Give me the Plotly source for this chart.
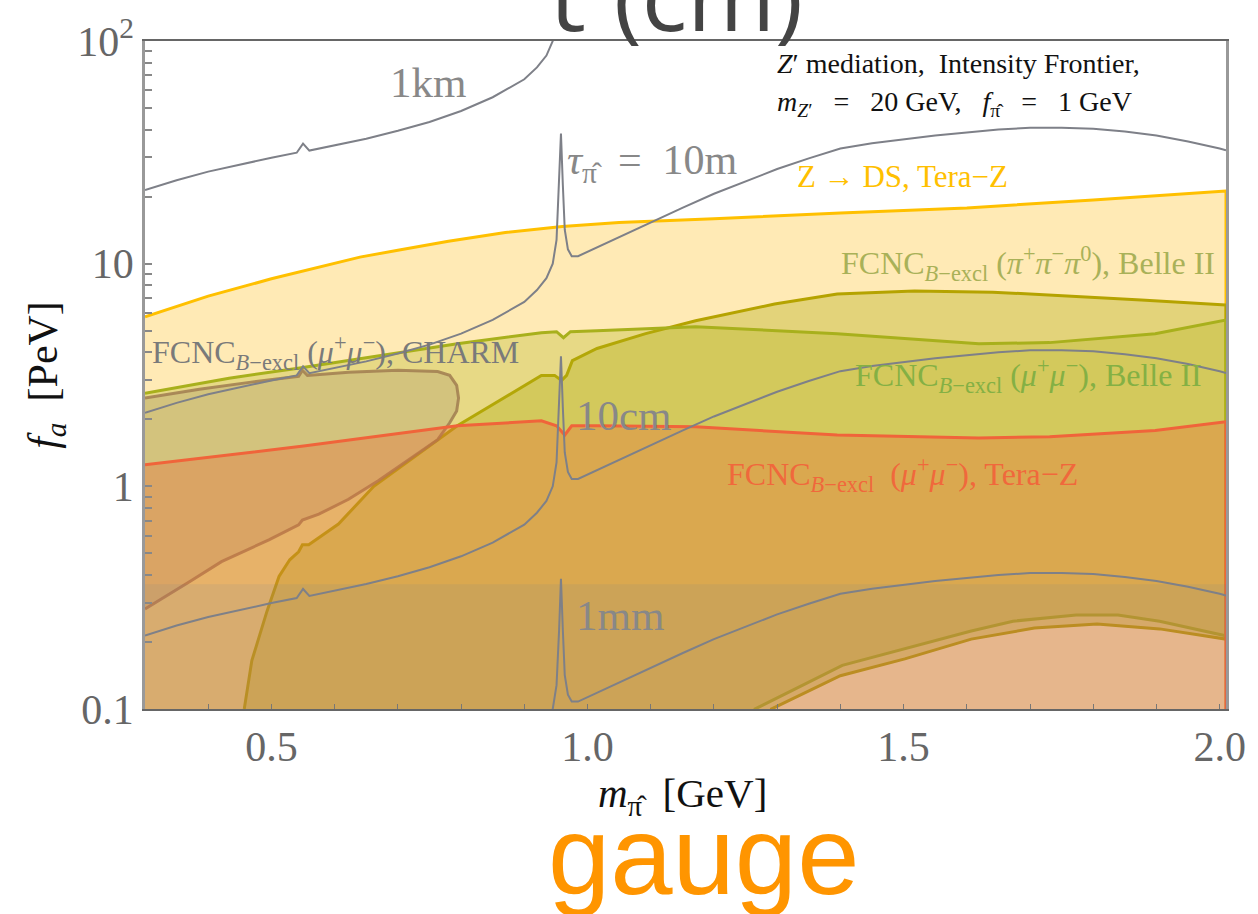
import plotly.graph_objects as go

# ---------------- data ----------------
# lifetime contours (gray lines)
CONTOUR_X = [0.30, 0.35, 0.40, 0.45, 0.50, 0.54, 0.55, 0.56, 0.60, 0.65, 0.70, 0.75, 0.80,
             0.85, 0.90, 0.92, 0.935, 0.945, 0.951, 0.955, 0.958, 0.961, 0.964, 0.969,
             0.975, 0.985, 1.00, 1.05, 1.10, 1.15, 1.20, 1.25, 1.30, 1.35, 1.40, 1.45,
             1.50, 1.55, 1.60, 1.65, 1.70, 1.75, 1.80, 1.85, 1.90, 1.95, 2.00, 2.01]
TAU_1KM = [21.4, 23.7, 25.9, 27.9, 29.9, 31.5, 34.6, 32.2, 33.9, 36.4, 39.5, 43.3, 48.5,
           55.9, 67.3, 76.1, 86.0, 100, 128, 225, 384, 225, 142, 116,
           108, 108, 113, 132, 154, 178, 206, 235, 266, 297, 329, 347,
           361, 376, 388, 400, 408, 408, 404, 392, 376, 354, 329, 323]
TAU_10M = [2.14, 2.37, 2.59, 2.79, 2.99, 3.15, 3.46, 3.22, 3.39, 3.64, 3.95, 4.33, 4.85,
           5.59, 6.73, 7.61, 8.60, 10.0, 12.8, 22.5, 38.4, 22.5, 14.2, 11.6,
           10.8, 10.8, 11.3, 13.2, 15.4, 17.8, 20.6, 23.5, 26.6, 29.7, 32.9, 34.7,
           36.1, 37.6, 38.8, 40.0, 40.8, 40.8, 40.4, 39.2, 37.6, 35.4, 32.9, 32.3]
TAU_10CM = [0.214, 0.237, 0.259, 0.279, 0.299, 0.315, 0.346, 0.322, 0.339, 0.364, 0.395, 0.433, 0.485,
            0.559, 0.673, 0.761, 0.860, 1.00, 1.28, 2.25, 3.84, 2.25, 1.42, 1.16,
            1.08, 1.08, 1.13, 1.32, 1.54, 1.78, 2.06, 2.35, 2.66, 2.97, 3.29, 3.47,
            3.61, 3.76, 3.88, 4.00, 4.08, 4.08, 4.04, 3.92, 3.76, 3.54, 3.29, 3.23]
TAU_1MM = [0.0214, 0.0237, 0.0259, 0.0279, 0.0299, 0.0315, 0.0346, 0.0322, 0.0339, 0.0364, 0.0395, 0.0433, 0.0485,
           0.0559, 0.0673, 0.0761, 0.0860, 0.100, 0.128, 0.225, 0.384, 0.225, 0.142, 0.116,
           0.108, 0.108, 0.113, 0.132, 0.154, 0.178, 0.206, 0.235, 0.266, 0.297, 0.329, 0.347,
           0.361, 0.376, 0.388, 0.400, 0.408, 0.408, 0.404, 0.392, 0.376, 0.354, 0.329, 0.323]

# Z -> DS, Tera-Z (yellow)
ZDS_X = [0.30, 0.40, 0.50, 0.58, 0.64, 0.70, 0.78, 0.87, 0.96, 1.05, 1.20, 1.40, 1.60, 1.80, 2.01]
ZDS_Y = [5.77, 7.15, 8.55, 9.75, 10.7, 11.5, 12.6, 13.8, 14.7, 15.3, 15.9, 16.9, 17.8, 19.3, 21.2]

# FCNC B-excl (pi+ pi- pi0), Belle II (olive band)
B3PI_UP_X = [0.457, 0.469, 0.493, 0.512, 0.529, 0.543, 0.549, 0.559, 0.606, 0.662, 0.794,
             0.927, 0.948, 0.959, 0.967, 0.976, 1.015, 1.092, 1.171, 1.296, 1.395, 1.517,
             1.641, 1.731, 1.876, 2.01]
B3PI_UP_Y = [0.10, 0.165, 0.275, 0.394, 0.468, 0.508, 0.546, 0.546, 0.677, 1.0, 1.87,
             3.15, 3.15, 2.99, 3.15, 3.67, 4.16, 4.85, 5.54, 6.59, 7.30, 7.53,
             7.45, 7.23, 6.87, 6.52]
B3PI_LO_X = [1.291, 1.400, 1.502, 1.607, 1.707, 1.806, 1.905, 2.01]
B3PI_LO_Y = [0.10, 0.141, 0.168, 0.206, 0.231, 0.241, 0.229, 0.206]

# FCNC B-excl (mu+ mu-), Belle II (green band)
BMU_UP_X = [0.30, 0.433, 0.542, 0.675, 0.794, 0.927, 0.951, 0.962, 0.973, 1.015, 1.171,
            1.395, 1.619, 1.731, 1.898, 2.01]
BMU_UP_Y = [2.62, 3.06, 3.39, 3.87, 4.37, 4.90, 4.95, 4.65, 4.95, 5.00, 5.21,
            4.85, 4.37, 4.42, 4.85, 5.59]
BMU_LO_X = [1.265, 1.403, 1.502, 1.607, 1.673, 1.773, 1.839, 1.905, 2.01]
BMU_LO_Y = [0.10, 0.157, 0.186, 0.224, 0.248, 0.264, 0.264, 0.248, 0.213]

# FCNC B-excl (mu+ mu-), CHARM (closed contour)
CHARM_X = [0.30, 0.386, 0.465, 0.543, 0.549, 0.557, 0.622, 0.700, 0.763, 0.782, 0.793, 0.796,
           0.793, 0.782, 0.763, 0.716, 0.669, 0.622, 0.575, 0.549, 0.543, 0.496, 0.449,
           0.421, 0.371, 0.30]
CHARM_Y = [2.49, 2.73, 2.93, 3.12, 3.32, 3.15, 3.25, 3.32, 3.28, 3.15, 2.84, 2.49,
           2.18, 1.93, 1.62, 1.31, 1.06, 0.875, 0.750, 0.706, 0.671, 0.575, 0.498,
           0.459, 0.374, 0.281]

# FCNC B-excl (mu+ mu-), Tera-Z (red)
TZMU_X = [0.30, 0.554, 0.794, 0.927, 0.951, 0.964, 0.975, 1.015, 1.171, 1.395, 1.619,
          1.731, 1.898, 2.01]
TZMU_Y = [1.25, 1.52, 1.87, 1.97, 1.87, 1.70, 1.87, 1.87, 1.85, 1.70, 1.65,
          1.67, 1.78, 1.95]

# shaded low-f_a band
BAND_Y = [0.1, 0.363]

X_RANGE = [0.3, 2.01]
Y_FLOOR = 0.08

X_TICKS = [0.4, 0.5, 0.6, 0.7, 0.8, 0.9, 1.0, 1.1, 1.2, 1.3, 1.4, 1.5, 1.6, 1.7, 1.8, 1.9, 2.0]
X_TICK_LABELS = {0.5: "0.5", 1.0: "1.0", 1.5: "1.5", 2.0: "2.0"}
Y_TICKS = [0.1, 0.2, 0.3, 0.4, 0.5, 0.6, 0.7, 0.8, 0.9, 1, 2, 3, 4, 5, 6, 7, 8, 9,
           10, 20, 30, 40, 50, 60, 70, 80, 90, 100]
Y_TICK_LABELS = {0.1: "0.1", 1: "1", 10: "10", 100: "10<sup>2</sup>"}

SERIF = "Liberation Serif"

# ---------------- figure ----------------
fig = go.Figure()


def to_floor(xs, ys):
    return list(xs) + [xs[-1], xs[0]], list(ys) + [Y_FLOOR, Y_FLOOR]


def band(ux, uy, lx, ly):
    xs = list(ux) + list(lx[::-1]) + [lx[0], ux[0]]
    ys = list(uy) + list(ly[::-1]) + [Y_FLOOR, Y_FLOOR]
    return xs, ys


def region(xs, ys, fill, line, width=3):
    fig.add_trace(go.Scatter(x=xs, y=ys, mode="lines", fill="toself", fillcolor=fill,
                             line=dict(color=line, width=width), hoverinfo="skip"))


x, y = to_floor(ZDS_X, ZDS_Y)
region(x, y, "rgba(255,190,30,0.33)", "#FFC000")
x, y = band(B3PI_UP_X, B3PI_UP_Y, B3PI_LO_X, B3PI_LO_Y)
region(x, y, "rgba(178,172,20,0.36)", "#B5A300")
x, y = band(BMU_UP_X, BMU_UP_Y, BMU_LO_X, BMU_LO_Y)
region(x, y, "rgba(177,179,22,0.30)", "#A8B01C")
region(list(CHARM_X), list(CHARM_Y), "rgba(165,145,110,0.30)", "rgba(160,125,80,0.85)")
x, y = to_floor(TZMU_X, TZMU_Y)
region(x, y, "rgba(232,105,55,0.35)", "#F0643A")

# low band
fig.add_trace(go.Scatter(x=[X_RANGE[0], X_RANGE[1], X_RANGE[1], X_RANGE[0]],
                         y=[BAND_Y[0] * 0.8, BAND_Y[0] * 0.8, BAND_Y[1], BAND_Y[1]],
                         mode="none", fill="toself", fillcolor="rgba(88,130,170,0.10)",
                         hoverinfo="skip"))

for ys in (TAU_1KM, TAU_10M, TAU_10CM, TAU_1MM):
    fig.add_trace(go.Scatter(x=CONTOUR_X, y=ys, mode="lines",
                             line=dict(color="#7E8088", width=2), hoverinfo="skip"))

# ---------------- axes ----------------
fig.update_xaxes(range=X_RANGE, showgrid=False, zeroline=False,
                 tickvals=X_TICKS, ticktext=[X_TICK_LABELS.get(v, "") for v in X_TICKS],
                 ticks="inside", ticklen=5, tickwidth=1.3, tickcolor="#777",
                 showline=True, linecolor="#666", linewidth=1.5, mirror=True,
                 tickfont=dict(family=SERIF, size=42, color="#666"))
fig.update_yaxes(type="log", range=[-1, 2], showgrid=False, zeroline=False,
                 tickvals=Y_TICKS, ticktext=[Y_TICK_LABELS.get(v, "") for v in Y_TICKS],
                 ticks="inside", ticklen=7, tickwidth=1.5, tickcolor="#888",
                 showline=True, linecolor="#999", linewidth=2.5, mirror=True,
                 tickfont=dict(family=SERIF, size=42, color="#666"))


def px_x(p):
    return (p - 145) / 1090.0


def px_y(p):
    return (709 - p) / 674.0


ann = []


def label(text, px, py, size, color, xanchor="left", yanchor="middle", family=SERIF, angle=0):
    ann.append(dict(text=text, x=px_x(px), y=px_y(py), xref="paper", yref="paper",
                    xanchor=xanchor, yanchor=yanchor, showarrow=False, textangle=angle,
                    font=dict(family=family, size=size, color=color)))


hat_pi = "π\u0302"
label("1km", 430, 77, 43, "#888", xanchor="center")
label("<i>τ</i><sub>" + hat_pi + "</sub>  =  10m", 568, 158, 42, "#888")
label("10cm", 578, 413, 43, "#888")
label("1mm", 578, 615, 43, "#888")
label("<i>Z</i>′ mediation,  Intensity Frontier,", 780, 58, 28, "#111")
label("<i>m</i><sub><i>Z</i>′</sub>   =   20 GeV,   <i>f</i><sub>" + hat_pi + "</sub>   =   1 GeV",
      780, 98, 28, "#111")
label("Z → DS, Tera−Z", 909, 172, 31, "#FFC000", xanchor="center")
label("FCNC<sub><i>B</i>−excl</sub> (<i>π</i><sup>+</sup><i>π</i><sup>−</sup><i>π</i><sup>0</sup>), Belle II",
      1226, 260, 32, "#A9B158", xanchor="right")
label("FCNC<sub><i>B</i>−excl</sub> (<i>μ</i><sup>+</sup><i>μ</i><sup>−</sup>), Belle II",
      1213, 372, 32, "#84B044", xanchor="right")
label("FCNC<sub><i>B</i>−excl</sub>  (<i>μ</i><sup>+</sup><i>μ</i><sup>−</sup>), Tera−Z",
      730, 472, 32, "#F0683C")
label("FCNC<sub><i>B</i>−excl</sub> (<i>μ</i><sup>+</sup><i>μ</i><sup>−</sup>), CHARM",
      150, 349, 32, "#7A7A7A")
# axis titles
label("<i>m</i><sub>" + hat_pi + "</sub>  [GeV]", 687, 797, 41, "#111", xanchor="center")
label("<i>f</i><sub><i>a</i></sub>  [PeV]", 45, 372, 42, "#111", xanchor="center", angle=-90)
# slide texts
label("τ (cm)", 678, 55, 95, "#444", xanchor="center", yanchor="bottom", family="Open Sans")
label("gauge", 708, 922, 112, "#FF9500", xanchor="center", yanchor="bottom", family="Liberation Sans")

fig.update_layout(width=1258, height=914, margin=dict(l=145, r=23, t=35, b=205),
                  paper_bgcolor="white", plot_bgcolor="white", showlegend=False,
                  annotations=ann)

fig.write_html("out.html")
